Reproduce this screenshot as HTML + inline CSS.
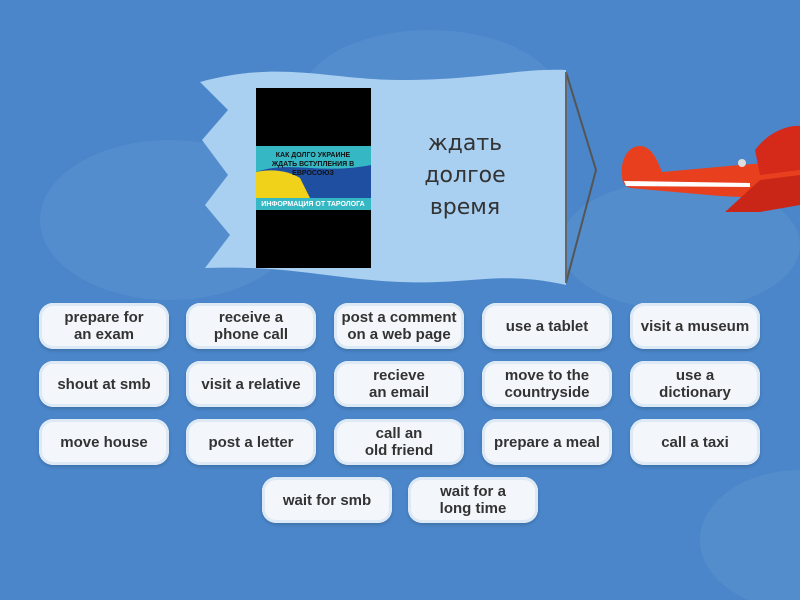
<!DOCTYPE html>
<html><head><meta charset="utf-8"><style>
html,body{margin:0;width:800px;height:600px;overflow:hidden}
body{background:#4a86c9;font-family:"Liberation Sans",sans-serif;position:relative}
.t{position:absolute;width:130px;height:46px;background:#f3f7fb;border-radius:14px;box-shadow:0 0 0 3px #dde9f5 inset,0 2px 3px rgba(0,0,0,.15);display:flex;align-items:center;justify-content:center;text-align:center;font-weight:bold;font-size:15px;line-height:17px;color:#333}
.cl{position:absolute;background:#5b93d0;border-radius:50%}
</style></head><body>
<div class="cl" style="left:40px;top:140px;width:260px;height:160px;opacity:.6"></div>
<div class="cl" style="left:300px;top:30px;width:260px;height:140px;opacity:.6"></div>
<div class="cl" style="left:560px;top:180px;width:240px;height:130px;opacity:.5"></div>
<div class="cl" style="left:700px;top:470px;width:200px;height:140px;opacity:.5"></div>
<svg style="position:absolute;left:0;top:0" width="800" height="600">
<path d="M200,82 C280,60 330,80 400,80 C480,80 520,68 566,70 L566,285 C500,270 470,285 400,282 C330,279 290,265 205,268 L230,235 L205,205 L228,175 L202,140 L228,110 Z" fill="#a9cff1"/>
<polyline points="566,72 596,170 566,283" fill="none" stroke="#555" stroke-width="2"/>
<line x1="566" y1="72" x2="566" y2="283" stroke="#666" stroke-width="2"/>
<rect x="256" y="88" width="115" height="180" fill="#000"/>
<rect x="256" y="146" width="115" height="64" fill="#36b8c4"/>
<path d="M256,172 C290,160 320,175 371,165 L371,198 L256,198 Z" fill="#1f4fa0"/>
<path d="M256,172 C275,168 290,172 300,178 L310,198 L256,198 Z" fill="#f1d21a"/>
<text x="313" y="157" font-size="7" fill="#111" text-anchor="middle" font-weight="bold">КАК ДОЛГО УКРАИНЕ</text>
<text x="313" y="166" font-size="7" fill="#111" text-anchor="middle" font-weight="bold">ЖДАТЬ ВСТУПЛЕНИЯ В</text>
<text x="313" y="175" font-size="7" fill="#111" text-anchor="middle" font-weight="bold">ЕВРОСОЮЗ</text>
<text x="313" y="206" font-size="7" fill="#fff" text-anchor="middle" font-weight="bold">ИНФОРМАЦИЯ ОТ ТАРОЛОГА</text>
<path d="M622,176 C620,160 628,146 640,146 C652,146 658,162 662,172 L740,165 L800,160 L800,200 L720,196 L630,188 C624,186 622,182 622,176 Z" fill="#e8401f"/>
<path d="M624,181 L750,183 L750,187 L626,186 Z" fill="#fff"/>
<path d="M755,150 C770,130 790,125 800,126 L800,170 L760,175 Z" fill="#d52a1a"/>
<path d="M725,212 L760,180 L800,175 L800,205 L760,212 Z" fill="#c92618"/>
<circle cx="742" cy="163" r="4" fill="#ddd"/>
</svg>
<div style="position:absolute;left:400px;top:128px;width:130px;text-align:center;font-family:'DejaVu Sans',sans-serif;font-size:22px;line-height:32px;color:#333">ждать<br>долгое<br>время</div>
<div class="t" style="left:39px;top:303px">prepare for<br>an exam</div>
<div class="t" style="left:186px;top:303px">receive a<br>phone call</div>
<div class="t" style="left:334px;top:303px">post a comment<br>on a web page</div>
<div class="t" style="left:482px;top:303px">use a tablet</div>
<div class="t" style="left:630px;top:303px">visit a museum</div>
<div class="t" style="left:39px;top:361px">shout at smb</div>
<div class="t" style="left:186px;top:361px">visit a relative</div>
<div class="t" style="left:334px;top:361px">recieve<br>an email</div>
<div class="t" style="left:482px;top:361px">move to the<br>countryside</div>
<div class="t" style="left:630px;top:361px">use a<br>dictionary</div>
<div class="t" style="left:39px;top:419px">move house</div>
<div class="t" style="left:186px;top:419px">post a letter</div>
<div class="t" style="left:334px;top:419px">call an<br>old friend</div>
<div class="t" style="left:482px;top:419px">prepare a meal</div>
<div class="t" style="left:630px;top:419px">call a taxi</div>
<div class="t" style="left:262px;top:477px">wait for smb</div>
<div class="t" style="left:408px;top:477px">wait for a<br>long time</div>
</body></html>
